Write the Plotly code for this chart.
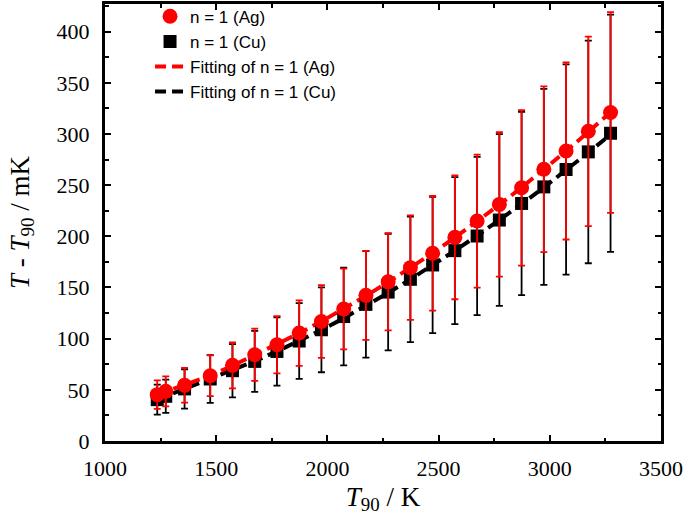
import plotly.graph_objects as go

# Temperatures T90 / K
t90 = [1234.93, 1273.15, 1357.77, 1473.15, 1573.15, 1673.15, 1773.15, 1873.15,
       1973.15, 2073.15, 2173.15, 2273.15, 2373.15, 2473.15, 2573.15, 2673.15,
       2773.15, 2873.15, 2973.15, 3073.15, 3173.15, 3273.15]

# n = 1 (Ag)
ag_vals = [45.3, 48.5, 54.4, 63.8, 73.9, 84.3, 94.0, 105.5, 116.8, 129.0, 142.3,
           155.5, 169.4, 183.4, 199.0, 214.9, 231.2, 247.4, 265.6, 283.4, 302.6, 321.0]
ag_err = [14.0, 14.6, 17.0, 20.0, 22.5, 25.5, 28.0, 32.0, 35.5, 39.5, 43.5,
          47.5, 51.0, 56.0, 60.5, 65.0, 70.5, 76.0, 81.0, 86.5, 92.6, 98.0]

# n = 1 (Cu)
cu_vals = [40.4, 43.7, 50.9, 60.6, 68.7, 77.8, 87.5, 97.7, 108.7, 121.6, 133.5,
           145.5, 158.0, 172.0, 186.0, 200.3, 215.9, 232.1, 248.3, 265.3, 282.5, 300.7]
cu_err = [14.6, 16.2, 19.2, 23.4, 26.0, 29.8, 33.4, 37.0, 41.5, 47.7, 52.0,
          57.0, 61.3, 66.5, 71.8, 77.3, 83.9, 89.6, 95.8, 102.7, 108.8, 116.0]

# Fitting curves
ag_fit = [45.5, 48.6, 54.8, 63.8, 73.5, 83.8, 94.3, 105.3, 116.9, 129.0, 141.8,
          155.2, 169.1, 183.6, 198.8, 214.5, 230.8, 247.7, 265.2, 283.3, 302.0, 321.2]
cu_fit = [40.5, 43.8, 50.8, 60.5, 69.0, 78.0, 87.6, 97.7, 108.4, 119.9, 132.0,
          144.8, 158.0, 171.8, 186.0, 200.6, 215.8, 231.5, 247.8, 264.6, 281.8, 299.5]

names = ["n = 1 (Ag)", "n = 1 (Cu)", "Fitting of n = 1 (Ag)", "Fitting of n = 1 (Cu)"]

RED = "#FF0000"
BLACK = "#000000"

fig = go.Figure()

fig.add_trace(go.Scatter(
    x=t90, y=cu_fit, mode="lines", name=names[3], legendrank=4,
    line=dict(color=BLACK, width=4, dash="11px,6px")))
fig.add_trace(go.Scatter(
    x=t90, y=ag_fit, mode="lines", name=names[2], legendrank=3,
    line=dict(color=RED, width=4, dash="11px,6px")))
fig.add_trace(go.Scatter(
    x=t90, y=cu_vals, mode="markers", name=names[1], legendrank=2,
    marker=dict(symbol="square", size=13, color=BLACK),
    error_y=dict(type="data", array=cu_err, visible=True, color=BLACK,
                 thickness=1.8, width=3.5)))
fig.add_trace(go.Scatter(
    x=t90, y=ag_vals, mode="markers", name=names[0], legendrank=1,
    marker=dict(symbol="circle", size=15, color=RED),
    error_y=dict(type="data", array=ag_err, visible=True, color=RED,
                 thickness=1.8, width=3.5)))

serif = "Liberation Serif, Times New Roman, serif"
axis_common = dict(
    showline=True, linecolor=BLACK, linewidth=3, mirror="ticks",
    ticks="inside", ticklen=6, tickwidth=2, tickcolor=BLACK,
    showgrid=False, zeroline=False,
    tickfont=dict(family=serif, size=22, color=BLACK),
)

fig.update_xaxes(
    range=[1000, 3500], tickmode="linear", tick0=1000, dtick=500,
    minor=dict(ticks="inside", ticklen=3.5, tickwidth=2, tickcolor=BLACK, dtick=250),
    title=dict(text="<i>T</i><sub>90</sub> / K", font=dict(family=serif, size=27, color=BLACK),
               standoff=7),
    ticklabelstandoff=6,
    **axis_common)
fig.update_yaxes(
    range=[0, 427], tickmode="linear", tick0=0, dtick=50,
    minor=dict(ticks="inside", ticklen=3.5, tickwidth=2, tickcolor=BLACK, dtick=25),
    title=dict(text="<i>T</i> - <i>T</i><sub>90</sub> / mK", font=dict(family=serif, size=27, color=BLACK),
               standoff=20),
    ticklabelstandoff=8,
    **axis_common)

fig.update_layout(
    width=685, height=525,
    margin=dict(l=105, r=24, t=4, b=84, autoexpand=False),
    plot_bgcolor="white", paper_bgcolor="white",
    legend=dict(x=0.081, y=1.012, xanchor="left", yanchor="top",
                bgcolor="rgba(0,0,0,0)", borderwidth=0,
                font=dict(family="Liberation Sans, Arial, sans-serif", size=17, color=BLACK),
                tracegroupgap=0),
)

fig.write_html("out.html", config={"displayModeBar": False},
               post_script="document.body.style.margin='0px';")
